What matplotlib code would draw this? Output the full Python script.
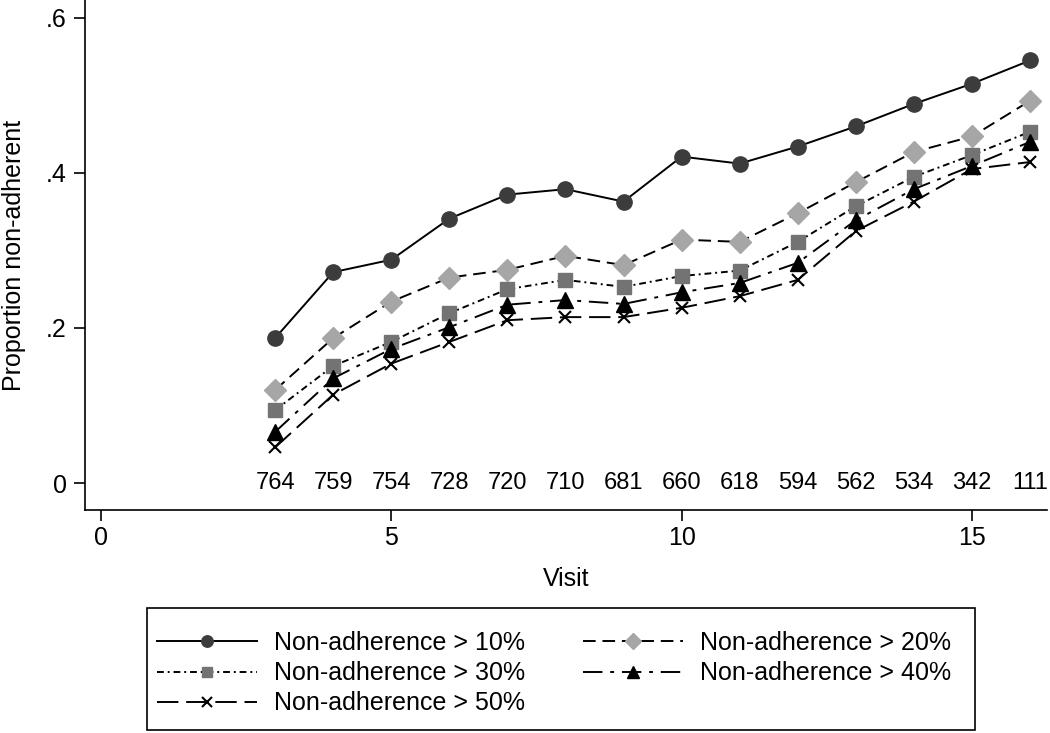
import matplotlib
matplotlib.use('Agg')
import matplotlib.pyplot as plt
from matplotlib.patches import Rectangle

plt.rcParams['font.family'] = ['Liberation Sans', 'DejaVu Sans']

# Data
visit = [3, 4, 5, 6, 7, 8, 9, 10, 11, 12, 13, 14, 15, 16]
n_at_visit = [764, 759, 754, 728, 720, 710, 681, 660, 618, 594, 562, 534, 342, 111]

p10 = [0.187, 0.272, 0.288, 0.341, 0.372, 0.379, 0.363, 0.421, 0.412, 0.434, 0.460, 0.489, 0.515, 0.545]
p20 = [0.120, 0.187, 0.234, 0.265, 0.275, 0.293, 0.281, 0.314, 0.311, 0.348, 0.388, 0.427, 0.447, 0.493]
p30 = [0.094, 0.151, 0.182, 0.219, 0.250, 0.262, 0.253, 0.267, 0.274, 0.311, 0.357, 0.395, 0.423, 0.453]
p40 = [0.066, 0.135, 0.173, 0.201, 0.230, 0.236, 0.231, 0.246, 0.258, 0.284, 0.339, 0.379, 0.409, 0.440]
p50 = [0.046, 0.114, 0.154, 0.182, 0.210, 0.214, 0.214, 0.226, 0.241, 0.262, 0.325, 0.363, 0.405, 0.414]

labels = ['Non-adherence > 10%', 'Non-adherence > 20%', 'Non-adherence > 30%',
          'Non-adherence > 40%', 'Non-adherence > 50%']

fig = plt.figure(figsize=(10.5, 7.33), dpi=100)
ax = fig.add_axes([0.081, 0.304, 0.916, 0.696])

fs = 18

h10, = ax.plot(visit, p10, color='black', lw=1.4, ls='-',
               marker='o', ms=11, mfc='#3c3c3c', mec='#3c3c3c')
h20, = ax.plot(visit, p20, color='black', lw=1.4, ls=(0, (6.5, 3.5)),
               marker='D', ms=11, mfc='#a6a6a6', mec='#a6a6a6')
h30, = ax.plot(visit, p30, color='black', lw=1.4, ls=(0, (3.5, 2, 1, 2)),
               marker='s', ms=10, mfc='#737373', mec='#737373')
h40, = ax.plot(visit, p40, color='black', lw=1.4, ls=(0, (10, 4, 2, 4)),
               marker='^', ms=12, mfc='black', mec='black')
h50, = ax.plot(visit, p50, color='black', lw=1.4, ls=(0, (11, 4)),
               marker='x', ms=9, mec='black', mew=1.5)

# number at each visit along the zero line
for x, n in zip(visit, n_at_visit):
    ax.text(x, 0, str(n), ha='center', va='center', fontsize=17)

ax.set_xlim(-0.274, 16.29)
ax.set_ylim(-0.035, 0.623)
ax.set_xticks([0, 5, 10, 15])
ax.set_yticks([0, 0.2, 0.4, 0.6])
ax.set_yticklabels(['0', '.2', '.4', '.6'])
ax.tick_params(axis='both', labelsize=fs, length=8, width=1.2, direction='out')
ax.tick_params(axis='y', pad=5)

for s in ['top', 'right']:
    ax.spines[s].set_visible(False)
for s in ['left', 'bottom']:
    ax.spines[s].set_linewidth(1.2)

ax.set_xlabel('Visit', fontsize=fs, labelpad=12)
ax.set_ylabel('Proportion non-adherent', fontsize=fs)
ax.yaxis.set_label_coords(-0.061, 0.5)

# legend box drawn separately so the padding matches
fig.patches.append(Rectangle((147 / 1050, 1 - 730 / 733), (975 - 147) / 1050, (730 - 608) / 733,
                             transform=fig.transFigure, fill=False,
                             edgecolor='black', linewidth=1.2))
fig.legend([h10, h30, h50, h20, h40],
           [labels[0], labels[2], labels[4], labels[1], labels[3]],
           ncol=2, loc='upper left',
           bbox_to_anchor=(157 / 1050, 1 - 631 / 733),
           fontsize=fs, handlelength=4.0, handletextpad=0.68,
           columnspacing=2.3, labelspacing=0.25, markerscale=0.75,
           frameon=False, borderpad=0, borderaxespad=0)

fig.savefig('out.png', dpi=100)
